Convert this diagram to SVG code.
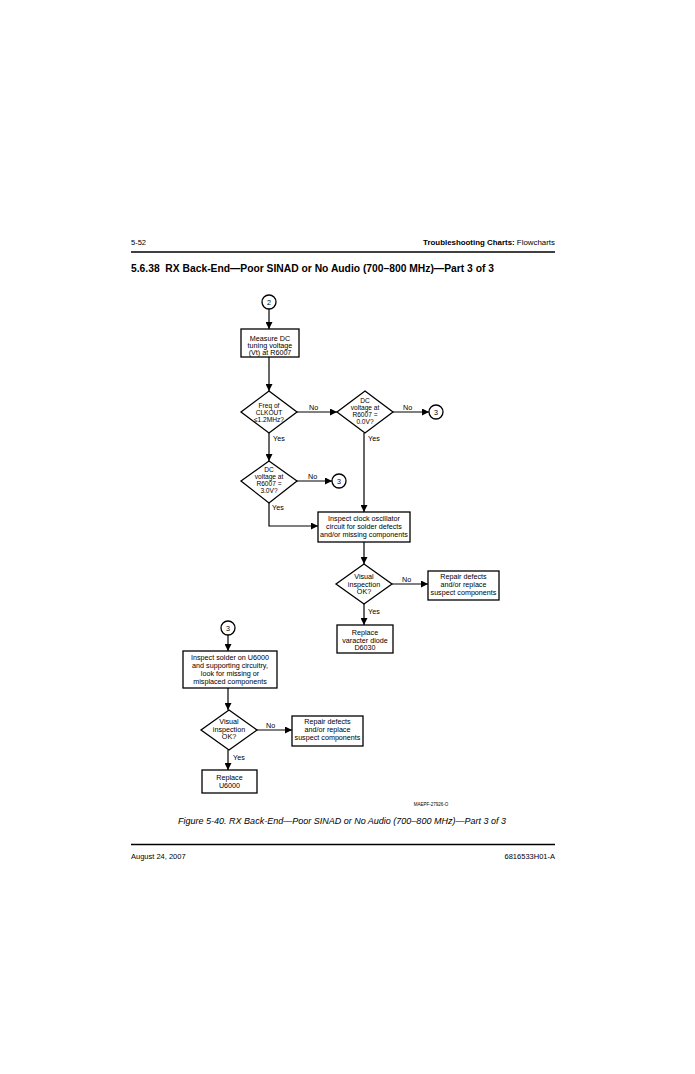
<svg xmlns="http://www.w3.org/2000/svg" width="695" height="1074" viewBox="0 0 695 1074">
<style>
text{font-family:"Liberation Sans",Arial,sans-serif;fill:#000}
.n{font-size:7.2px;text-anchor:middle}
.d{font-size:6.6px;text-anchor:middle}
.l{font-size:7.2px}
.s{fill:#fff;stroke:#000;stroke-width:1.3}
.c{fill:none;stroke:#000;stroke-width:1.2}
</style>
<defs>
<marker id="a" viewBox="0 0 10 10" refX="10" refY="5" markerWidth="7" markerHeight="7" markerUnits="userSpaceOnUse" orient="auto">
<path d="M0,0 L10,5 L0,10 z" fill="#000"/>
</marker>
</defs>
<rect width="695" height="1074" fill="#fff"/>
<g id="header">
<text x="131" y="245" style="font-size:7.5px">5-52</text>
<text x="555" y="245" style="font-size:7.9px;text-anchor:end"><tspan font-weight="bold">Troubleshooting Charts:</tspan> Flowcharts</text>
<line x1="131" y1="252" x2="555" y2="252" stroke="#000" stroke-width="1.5"/>
<text x="131" y="272" style="font-size:10.3px;font-weight:bold" xml:space="preserve">5.6.38  RX Back-End—Poor SINAD or No Audio (700–800 MHz)—Part 3 of 3</text>
</g>
<g id="connectors">
<line class="c" x1="269" y1="309" x2="269" y2="329" marker-end="url(#a)"/>
<line class="c" x1="269" y1="357" x2="269" y2="391" marker-end="url(#a)"/>
<line class="c" x1="297" y1="412" x2="337" y2="412" marker-end="url(#a)"/>
<line class="c" x1="393" y1="412" x2="429" y2="412" marker-end="url(#a)"/>
<line class="c" x1="269" y1="433" x2="269" y2="461" marker-end="url(#a)"/>
<line class="c" x1="297" y1="481" x2="332" y2="481" marker-end="url(#a)"/>
<polyline class="c" points="269,503 269,526 318,526" marker-end="url(#a)"/>
<line class="c" x1="364" y1="433" x2="364" y2="512" marker-end="url(#a)"/>
<line class="c" x1="364" y1="542" x2="364" y2="564" marker-end="url(#a)"/>
<line class="c" x1="392" y1="584" x2="428" y2="584" marker-end="url(#a)"/>
<line class="c" x1="364" y1="604" x2="364" y2="625" marker-end="url(#a)"/>
<line class="c" x1="228" y1="635" x2="228" y2="651" marker-end="url(#a)"/>
<line class="c" x1="228" y1="688" x2="228" y2="710" marker-end="url(#a)"/>
<line class="c" x1="257" y1="730" x2="292" y2="730" marker-end="url(#a)"/>
<line class="c" x1="228" y1="750" x2="228" y2="770" marker-end="url(#a)"/>
<text class="l" x="309" y="410">No</text>
<text class="l" x="403" y="410">No</text>
<text class="l" x="273" y="441">Yes</text>
<text class="l" x="368" y="441">Yes</text>
<text class="l" x="308" y="479">No</text>
<text class="l" x="272" y="510">Yes</text>
<text class="l" x="402" y="582">No</text>
<text class="l" x="368" y="614">Yes</text>
<text class="l" x="266" y="728">No</text>
<text class="l" x="233" y="760">Yes</text>
</g>
<g id="c2">
<circle class="s" cx="269" cy="302" r="7"/>
<text class="n" x="269" y="304.5">2</text>
</g>
<g id="measure">
<rect class="s" x="241" y="329" width="58" height="28"/>
<text class="n" x="270" y="340.5">Measure DC</text>
<text class="n" x="270" y="348">tuning voltage</text>
<text class="n" x="270" y="355">(Vt) at R6007</text>
</g>
<g id="d1">
<polygon class="s" points="269,391 297,412 269,433 241,412"/>
<text class="d" x="269" y="407.5">Freq of</text>
<text class="d" x="269" y="414.5">CLKOUT</text>
<text class="d" x="269" y="421.5">≤1.2MHz?</text>
</g>
<g id="d2">
<polygon class="s" points="365,391 393,412 365,433 337,412"/>
<text class="d" x="365" y="403">DC</text>
<text class="d" x="365" y="410">voltage at</text>
<text class="d" x="365" y="417">R6007 =</text>
<text class="d" x="365" y="424">0.0V?</text>
</g>
<g id="c3a">
<circle class="s" cx="436" cy="412" r="7"/>
<text class="n" x="436" y="414.5">3</text>
</g>
<g id="d3">
<polygon class="s" points="269,461 297,481 269,503 241,481"/>
<text class="d" x="269" y="472">DC</text>
<text class="d" x="269" y="479">voltage at</text>
<text class="d" x="269" y="486">R6007 =</text>
<text class="d" x="269" y="493">3.0V?</text>
</g>
<g id="c3b">
<circle class="s" cx="339" cy="481" r="7"/>
<text class="n" x="339" y="483.5">3</text>
</g>
<g id="clock">
<rect class="s" x="318" y="512" width="92" height="30"/>
<text class="n" x="364" y="520.5">Inspect clock oscillator</text>
<text class="n" x="364" y="528.5">circuit for solder defects</text>
<text class="n" x="364" y="536.5">and/or missing components</text>
</g>
<g id="d4">
<polygon class="s" points="364,564 392,584 364,604 336,584"/>
<text class="n" x="364" y="578.5">Visual</text>
<text class="n" x="364" y="586.5">inspection</text>
<text class="n" x="364" y="594">OK?</text>
</g>
<g id="repair1">
<rect class="s" x="428" y="571" width="71" height="29"/>
<text class="n" x="463.5" y="578.5">Repair defects</text>
<text class="n" x="463.5" y="587">and/or replace</text>
<text class="n" x="463.5" y="594.5">suspect components</text>
</g>
<g id="varactor">
<rect class="s" x="337" y="625" width="56" height="28"/>
<text class="n" x="365" y="634.5">Replace</text>
<text class="n" x="365" y="642.5">varacter diode</text>
<text class="n" x="365" y="650">D6030</text>
</g>
<g id="c3c">
<circle class="s" cx="228" cy="628" r="7"/>
<text class="n" x="228" y="630.5">3</text>
</g>
<g id="solder">
<rect class="s" x="183" y="651" width="94" height="37"/>
<text class="n" x="230" y="660">Inspect solder on U6000</text>
<text class="n" x="230" y="668">and supporting circuitry,</text>
<text class="n" x="230" y="676">look for missing or</text>
<text class="n" x="230" y="684">misplaced components</text>
</g>
<g id="d5">
<polygon class="s" points="229,710 257,730 229,750 201,730"/>
<text class="n" x="229" y="724">Visual</text>
<text class="n" x="229" y="732">inspection</text>
<text class="n" x="229" y="739">OK?</text>
</g>
<g id="repair2">
<rect class="s" x="292" y="716" width="71" height="30"/>
<text class="n" x="327.5" y="724">Repair defects</text>
<text class="n" x="327.5" y="732">and/or replace</text>
<text class="n" x="327.5" y="739.5">suspect components</text>
</g>
<g id="u6000">
<rect class="s" x="202" y="770" width="55" height="23"/>
<text class="n" x="229.5" y="780">Replace</text>
<text class="n" x="229.5" y="787.5">U6000</text>
</g>
<g id="footer">
<text x="431" y="805.5" style="font-size:4.5px;text-anchor:middle">MAEPF-27926-O</text>
<text x="342" y="824" style="font-size:9px;font-style:italic;text-anchor:middle">Figure 5-40.  RX Back-End—Poor SINAD or No Audio (700–800 MHz)—Part 3 of 3</text>
<line x1="131" y1="844.5" x2="555" y2="844.5" stroke="#000" stroke-width="1.5"/>
<text x="131" y="859" style="font-size:7.5px">August 24, 2007</text>
<text x="555" y="859" style="font-size:7.5px;text-anchor:end">6816533H01-A</text>
</g>
</svg>
